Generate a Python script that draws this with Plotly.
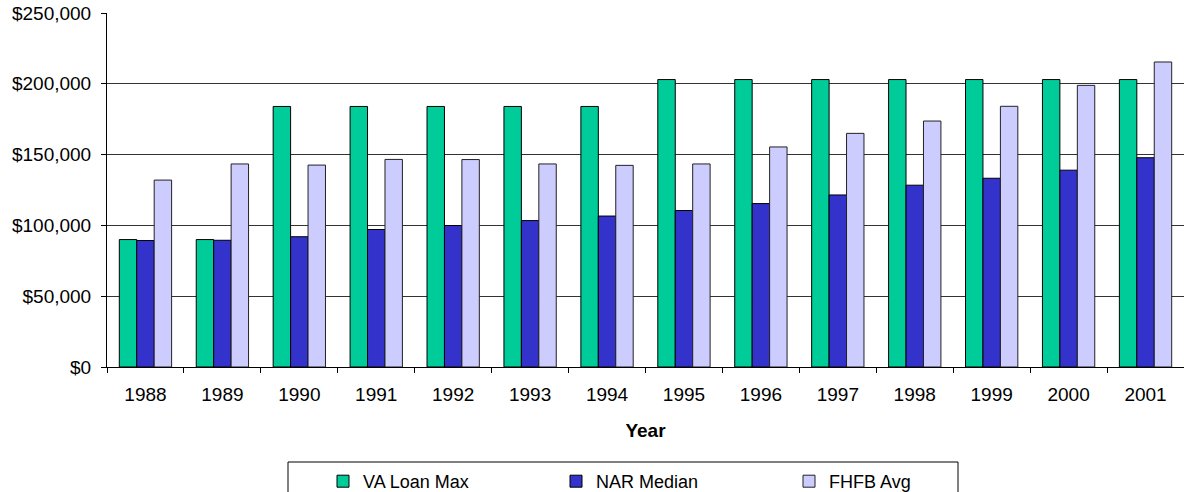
import plotly.graph_objects as go

years = ["1988", "1989", "1990", "1991", "1992", "1993", "1994",
         "1995", "1996", "1997", "1998", "1999", "2000", "2001"]
va_loan_max = [90000, 90000, 184000, 184000, 184000, 184000, 184000,
               203000, 203000, 203000, 203000, 203000, 203000, 203000]
nar_median = [89300, 89500, 92000, 97100, 99900, 103400, 106600,
              110500, 115400, 121500, 128400, 133300, 139000, 147800]
fhfb_avg = [132000, 143400, 142600, 146600, 146500, 143400, 142400,
            143400, 155400, 165000, 173700, 184100, 198900, 215400]

FONT = "Liberation Sans, Arial, sans-serif"
FS = 19

fig = go.Figure()
fig.add_trace(go.Bar(x=years, y=va_loan_max, name="VA Loan Max",
                     marker=dict(color="#00CC99", line=dict(color="#000000", width=1))))
fig.add_trace(go.Bar(x=years, y=nar_median, name="NAR Median",
                     marker=dict(color="#3333CC", line=dict(color="#000000", width=1))))
fig.add_trace(go.Bar(x=years, y=fhfb_avg, name="FHFB Avg",
                     marker=dict(color="#CCCCFF", line=dict(color="#222222", width=1))))

fig.update_layout(
    width=1184, height=492,
    margin=dict(l=107, r=0, t=13, b=125, autoexpand=False),
    paper_bgcolor="white", plot_bgcolor="white",
    barmode="group", bargap=0.32, bargroupgap=0,
    font=dict(family=FONT, size=FS, color="black"),
    showlegend=True,
    legend=dict(orientation="h", x=(323 - 107) / 1077, xanchor="left",
                y=(367 - 463) / 354, yanchor="top",
                bgcolor="rgba(0,0,0,0)", borderwidth=0,
                font=dict(family=FONT, size=18, color="black"),
                entrywidth=188, entrywidthmode="pixels",
                traceorder="normal"),
    xaxis=dict(
        type="category",
        showline=True, linecolor="black", linewidth=1,
        ticks="outside", ticklen=5, tickcolor="black", tickson="boundaries",
        showgrid=False,
        tickfont=dict(family=FONT, size=FS, color="black"),
        ticklabelstandoff=10,
        title=dict(text="<b>Year</b>", font=dict(family=FONT, size=FS, color="black"),
                   standoff=19),
    ),
    yaxis=dict(
        range=[0, 250000], dtick=50000, tickprefix="$", tickformat=",",
        showline=True, linecolor="black", linewidth=1,
        ticks="outside", ticklen=5, tickcolor="black",
        showgrid=True, gridcolor="#333333", gridwidth=1,
        zeroline=False, ticklabelstandoff=6, ticklabeloverflow="allow",
        tickfont=dict(family=FONT, size=FS, color="black"),
    ),
    shapes=[dict(type="rect", xref="paper", yref="paper",
                 x0=(288 - 107) / 1077, x1=(958 - 107) / 1077,
                 y0=(367 - 500) / 354, y1=(367 - 462) / 354,
                 line=dict(color="black", width=1), fillcolor="rgba(0,0,0,0)")],
)

fig.write_html("out.html",
               config={"displayModeBar": False},
               post_script="document.body.style.margin='0';document.body.style.overflow='hidden';")
